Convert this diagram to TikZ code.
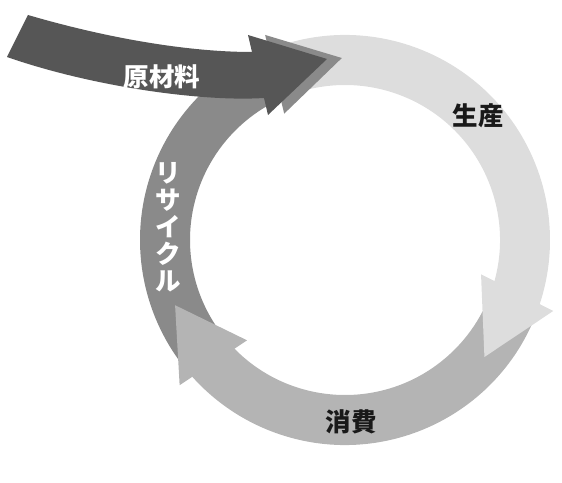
\documentclass[tikz,border=0pt]{standalone}
\usepackage{fontspec}
\newfontfamily\jpfont{Noto Sans CJK JP}
\usetikzlibrary{calc,positioning}

\definecolor{produce}{RGB}{221,221,221}
\definecolor{consume}{RGB}{180,180,180}
\definecolor{recycle}{RGB}{138,138,138}
\definecolor{raw}{RGB}{86,86,86}

\tikzset{
    txt/.style={font=\jpfont\bfseries\fontsize{25.5}{27}\selectfont, text=black!90, inner sep=0pt},
}

\begin{document}
\begin{tikzpicture}[x=1pt,y=1pt]
    \useasboundingbox (0,0) rectangle (562,482);
    \coordinate (c) at (345,242);

    % base middle and tip of each head
    \coordinate (s1) at ($(c)+(-17:180)$);
    \coordinate (s2) at ($(c)+(-40:182)$);
    \coordinate (k1) at ($(c)+(223:180)$);
    \coordinate (k2) at ($(c)+(201:182)$);
    \coordinate (r1) at ($(c)+(113:180)$);
    \coordinate (r2) at ($(c)+(91:182)$);

    % recycle
    \fill[recycle] ($(c)+(220:205)$) arc[start angle=220, end angle=109, radius=205pt]
        -- ($(c)+(109:155)$) arc[start angle=109, end angle=220, radius=155pt] -- cycle;

    % consume
    \fill[consume] ($(c)+(-20:205)$) arc[start angle=-20, end angle=-141, radius=205pt]
        -- ($(c)+(-141:155)$) arc[start angle=-141, end angle=-20, radius=155pt] -- cycle;
    \fill[consume] ($(k1)!40.5pt!90:(k2)$) -- (k2) -- ($(k1)!40.5pt!-90:(k2)$) -- cycle;

    % produce
    \fill[produce] ($(c)+(110:205)$) arc[start angle=110, end angle=-21, radius=205pt]
        -- ($(c)+(-21:155)$) arc[start angle=-21, end angle=110, radius=155pt] -- cycle;
    \fill[produce] ($(s1)!40.5pt!90:(s2)$) -- (s2) -- ($(s1)!40.5pt!-90:(s2)$) -- cycle;

    \fill[recycle] ($(r1)!40.5pt!90:(r2)$) -- (r2) -- ($(r1)!40.5pt!-90:(r2)$) -- cycle;

    % raw material
    \fill[raw] (28,467) .. controls (110,443) and (190,430) .. (252,430)
        -- (248,447) -- (327,423) -- (268,367) -- (264,384)
        .. controls (200,380) and (90,396) .. (7,425) -- cycle;

    \node[txt, text=white] (m) at (162,405) {原材料};
    \node[txt] (p) at (478,366) {生産};
    \node[txt] (q) at (351,60) {消費};
    \node[txt, text=white, align=center] (r) at (168,255) {リ\\サ\\イ\\ク\\ル};
\end{tikzpicture}
\end{document}
